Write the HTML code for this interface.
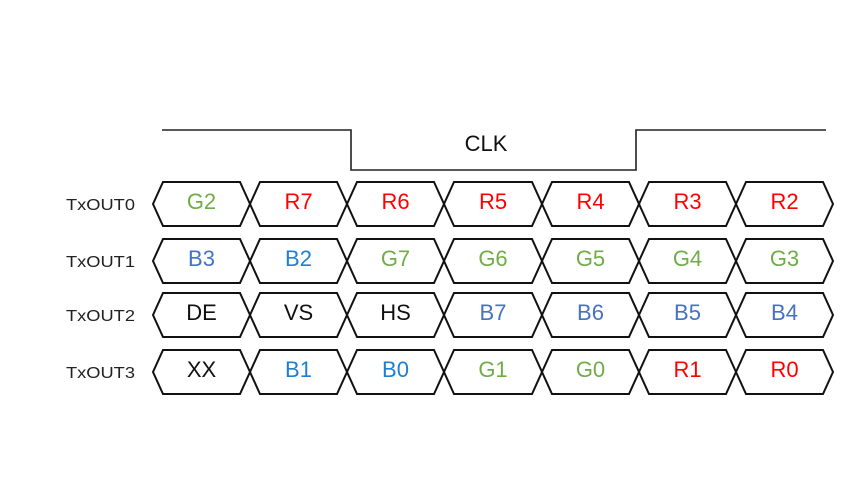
<!DOCTYPE html>
<html><head><meta charset="utf-8"><style>
body{margin:0;background:#fff;}
svg{display:block;font-family:"Liberation Sans",sans-serif;}
</style></head><body>
<svg id="chart" width="866" height="488" viewBox="0 0 866 488">
<polyline points="162,130 351,130 351,170 636,170 636,130 826,130" fill="none" stroke="#222" stroke-width="1.6"/>
<text x="486" y="151" font-size="22" text-anchor="middle" fill="#111">CLK</text>
<g id="rows"></g>
</svg>
<script>
const rowLabels = ["TxOUT0","TxOUT1","TxOUT2","TxOUT3"];
const cellText = [
 ["G2","R7","R6","R5","R4","R3","R2"],
 ["B3","B2","G7","G6","G5","G4","G3"],
 ["DE","VS","HS","B7","B6","B5","B4"],
 ["XX","B1","B0","G1","G0","R1","R0"]
];
const cellColor = [
 ["g","r","r","r","r","r","r"],
 ["b","c","g","g","g","g","g"],
 ["k","k","k","b","b","b","b"],
 ["k","c","c","g","g","r","r"]
];
const palette = {g:"#70ad47",r:"#ff0000",b:"#4472c4",c:"#1f7fd0",k:"#111"};
const rowMid = [204, 261, 315, 372];
const H = 22, S = 10;
const edges = [153, 250, 347, 444, 542, 639, 736, 833];
const NS = "http://www.w3.org/2000/svg";
const g = document.getElementById("rows");
rowLabels.forEach((lab, r) => {
  const y = rowMid[r];
  const t = document.createElementNS(NS, "text");
  
  
  t.setAttribute("x", 66); t.setAttribute("y", y + 6);
  t.setAttribute("font-size", "16"); t.setAttribute("fill", "#222");
  t.setAttribute("textLength", "69"); t.setAttribute("lengthAdjust", "spacingAndGlyphs");
  t.textContent = lab; g.appendChild(t);
  cellText[r].forEach((txt, i) => {
    const x0 = edges[i], x1 = edges[i+1];
    const p = document.createElementNS(NS, "polygon");
    
    
    p.setAttribute("points", `${x0},${y} ${x0+S},${y-H} ${x1-S},${y-H} ${x1},${y} ${x1-S},${y+H} ${x0+S},${y+H}`);
    p.setAttribute("fill", "none"); p.setAttribute("stroke", "#111"); p.setAttribute("stroke-width", "2");
    g.appendChild(p);
    const tx = document.createElementNS(NS, "text");
    
    
    tx.setAttribute("x", (x0 + x1) / 2); tx.setAttribute("y", y + 5);
    tx.setAttribute("font-size", "22"); tx.setAttribute("text-anchor", "middle");
    tx.setAttribute("fill", palette[cellColor[r][i]]);
    tx.textContent = txt; g.appendChild(tx);
  });
});
</script>
</body></html>
